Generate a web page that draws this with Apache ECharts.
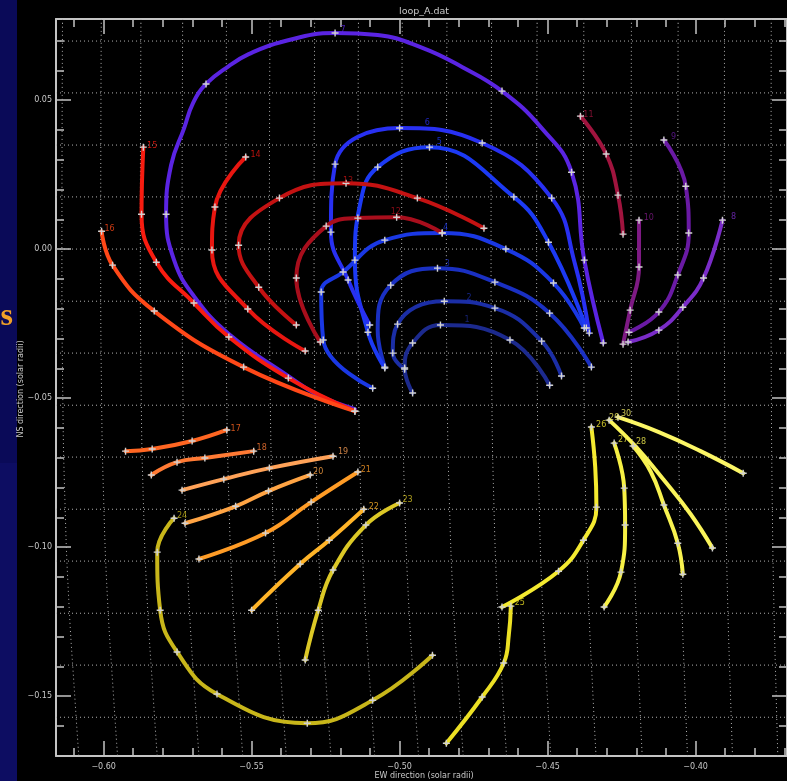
<!DOCTYPE html>
<html>
<head>
<meta charset="utf-8">
<script src="https://cdn.jsdelivr.net/npm/echarts@6/dist/echarts.min.js"></script>
<style>
  html, body { margin: 0; padding: 0; background: #000; }
  #main { width: 787px; height: 781px; }
</style>
</head>
<body>
<div id="main"></div>
<script>
// axis ranges (solar radii) and tick values
var X_MIN = -0.6161, X_MAX = -0.3691;
var Y_MIN = -0.1701, Y_MAX = 0.0772;
var xMajor = [-0.60, -0.55, -0.50, -0.45, -0.40];
var xMinor = [-0.61, -0.59, -0.58, -0.57, -0.56, -0.54, -0.53, -0.52, -0.51, -0.49, -0.48, -0.47, -0.46,
              -0.44, -0.43, -0.42, -0.41, -0.39, -0.38, -0.37];
var yMajor = [0.05, 0.00, -0.05, -0.10, -0.15];
var yMinor = [0.07, 0.06, 0.04, 0.03, 0.02, 0.01, -0.01, -0.02, -0.03, -0.04, -0.06, -0.07, -0.08, -0.09,
              -0.11, -0.12, -0.13, -0.14, -0.16];

// heliographic grid (dotted)
var latY = [0.0698, 0.0524, 0.0349, 0.0175, 0, -0.0175, -0.0349, -0.0524, -0.0698, -0.0873, -0.1047,
            -0.1222, -0.1396, -0.1571];
var meridianX = [-0.6141, -0.6010, -0.5876, -0.5735, -0.5587, -0.5440, -0.5289, -0.5141, -0.4993,
                 -0.4842, -0.4691, -0.4537, -0.4379, -0.4218, -0.4060, -0.3903, -0.3745];
var bendY = [0.0772, 0.0, -0.05, -0.084, -0.1175, -0.151, -0.1701];
var bendDx = [0.0002, 0, 0.0003, 0.001, 0.0023, 0.0044, 0.0057];

// traced loops: [x, y] points, third value 0 = no cross marker
var loop01 = [[-0.4956,-0.0483],[-0.4983,-0.0399],[-0.4956,-0.0315],[-0.4862,-0.0255],[-0.4627,-0.0305],[-0.4493,-0.0457]];
var loop02 = [[-0.4983,-0.0403],[-0.5023,-0.0349],[-0.5007,-0.0252],[-0.4849,-0.0175],[-0.4678,-0.0198],[-0.4520,-0.0309],[-0.4453,-0.0426]];
var loop03 = [[-0.5050,-0.0396],[-0.5074,-0.0272,0],[-0.5030,-0.0121],[-0.4872,-0.0064],[-0.4678,-0.0111],[-0.4493,-0.0215],[-0.4352,-0.0396]];
var loop04 = [[-0.5091,-0.0467],[-0.5258,-0.0305],[-0.5265,-0.0144],[-0.5191,-0.0077],[-0.5050,0.0030],[-0.4856,0.0054],[-0.4641,0.0000],[-0.4480,-0.0114],[-0.4376,-0.0265]];
var loop05 = [[-0.5050,-0.0399],[-0.5107,-0.0279],[-0.5151,-0.0037],[-0.5134,0.0148,0],[-0.5074,0.0275],[-0.4899,0.0342],[-0.4614,0.0175],[-0.4497,0.0023],[-0.4369,-0.0265]];
var loop06 = [[-0.5101,-0.0255],[-0.5174,-0.0104],[-0.5232,0.0057],[-0.5218,0.0285],[-0.5000,0.0406],[-0.4721,0.0356],[-0.4486,0.0171],[-0.4409,-0.0044,0],[-0.4359,-0.0282]];
var loop07 = [[-0.5151,-0.0537,0],[-0.5275,-0.0490,0],[-0.5376,-0.0426,0],[-0.5577,-0.0285,0],[-0.5695,-0.0158,0],[-0.5762,-0.0037,0],[-0.5789,0.0117],[-0.5772,0.0282,0],[-0.5728,0.0406,0],[-0.5698,0.0490,0],[-0.5654,0.0554],[-0.5577,0.0614,0],[-0.5510,0.0654,0],[-0.5399,0.0695,0],[-0.5218,0.0725],[-0.5074,0.0718,0],[-0.4923,0.0675,0],[-0.4789,0.0611,0],[-0.4654,0.0530],[-0.4520,0.0406,0],[-0.4419,0.0258],[-0.4376,-0.0037],[-0.4312,-0.0315]];
var loop08 = [[-0.3909,0.0097],[-0.3973,-0.0097],[-0.4043,-0.0195],[-0.4124,-0.0272],[-0.4228,-0.0312]];
var loop09 = [[-0.4107,0.0366],[-0.4033,0.0211],[-0.4023,0.0054],[-0.4060,-0.0087],[-0.4124,-0.0211],[-0.4225,-0.0279]];
var loop10 = [[-0.4191,0.0097],[-0.4191,-0.0060],[-0.4221,-0.0205],[-0.4245,-0.0319]];
var loop11 = [[-0.4389,0.0446],[-0.4302,0.0319],[-0.4262,0.0181],[-0.4245,0.0050]];
var loop12 = [[-0.5268,-0.0312],[-0.5349,-0.0097],[-0.5248,0.0077],[-0.5141,0.0104],[-0.5010,0.0107],[-0.4856,0.0054]];
var loop13 = [[-0.5349,-0.0255],[-0.5476,-0.0128],[-0.5544,0.0013],[-0.5406,0.0171],[-0.5181,0.0221],[-0.4940,0.0171],[-0.4715,0.0070]];
var loop14 = [[-0.5520,0.0309],[-0.5624,0.0141],[-0.5634,-0.0003],[-0.5513,-0.0201],[-0.5319,-0.0342]];
var loop15 = [[-0.5866,0.0342],[-0.5872,0.0117],[-0.5822,-0.0044],[-0.5695,-0.0181],[-0.5577,-0.0295],[-0.5376,-0.0433],[-0.5151,-0.0544]];
var loop16 = [[-0.6007,0.0060],[-0.5970,-0.0054],[-0.5829,-0.0208],[-0.5527,-0.0396],[-0.5151,-0.0544]];
var loop17 = [[-0.5926,-0.0678],[-0.5836,-0.0671],[-0.5701,-0.0644],[-0.5584,-0.0607]];
var loop18 = [[-0.5839,-0.0758],[-0.5752,-0.0715],[-0.5658,-0.0701],[-0.5493,-0.0678]];
var loop19 = [[-0.5735,-0.0809],[-0.5594,-0.0772],[-0.5440,-0.0735],[-0.5225,-0.0695]];
var loop20 = [[-0.5725,-0.0920],[-0.5554,-0.0863],[-0.5443,-0.0812],[-0.5302,-0.0758]];
var loop21 = [[-0.5678,-0.1040],[-0.5453,-0.0953],[-0.5299,-0.0849],[-0.5141,-0.0748]];
var loop22 = [[-0.5121,-0.0873],[-0.5238,-0.0977],[-0.5336,-0.1057],[-0.5500,-0.1212]];
var loop23 = [[-0.5000,-0.0852],[-0.5114,-0.0926],[-0.5225,-0.1077],[-0.5275,-0.1212],[-0.5319,-0.1379]];
var loop24 = [[-0.5762,-0.0903],[-0.5819,-0.1017],[-0.5809,-0.1212],[-0.5752,-0.1352],[-0.5617,-0.1493],[-0.5312,-0.1591],[-0.5091,-0.1514],[-0.4889,-0.1363]];
var loop25 = [[-0.4624,-0.1198],[-0.4631,-0.1295,0],[-0.4648,-0.1389],[-0.4721,-0.1503],[-0.4842,-0.1658]];
var loop26 = [[-0.4352,-0.0597],[-0.4339,-0.0732,0],[-0.4335,-0.0866],[-0.4379,-0.0977],[-0.4463,-0.1081],[-0.4654,-0.1201]];
var loop27 = [[-0.4275,-0.0651],[-0.4241,-0.0802],[-0.4238,-0.0926],[-0.4252,-0.1084],[-0.4309,-0.1201]];
var loop28 = [[-0.4211,-0.0661],[-0.4151,-0.0748,0],[-0.4107,-0.0859],[-0.4060,-0.0987],[-0.4043,-0.1091]];
var loop29 = [[-0.4292,-0.0574],[-0.4201,-0.0664,0],[-0.4107,-0.0775,0],[-0.4017,-0.0889,0],[-0.3943,-0.1003]];
var loop30 = [[-0.4262,-0.0564],[-0.4124,-0.0614,0],[-0.3983,-0.0678,0],[-0.3839,-0.0752]];

var loopColors = ['#1c2a8e','#1b2ea6','#1a30c2','#1a38e4','#1c3af4','#2830f2','#5a24e2','#7a2cc8','#6a1aa4','#7e1a84',
                  '#a0143e','#a80e1c','#c41212','#e81610','#f81c10','#ff4818','#ff6622','#ff7a34','#ffa258','#ffa444',
                  '#ff9c26','#ffb428','#dcc826','#c8b61a','#ece024','#f4ea30','#f6f044','#f8f250','#faf45a','#fcf666'];
var loopNames = ['1','2','3','4','5','6','7','8','9','10','11','12','13','14','15','16','17','18','19','20',
                 '21','22','23','24','25','26','27','28','29','30'];
var labelPos = [[-0.4772,-0.0238],[-0.4765,-0.0164],[-0.4839,-0.0050],[-0.4845,0.0070],[-0.4866,0.0359],[-0.4906,0.0423],
                [-0.5191,0.0735],[-0.3872,0.0107],[-0.4074,0.0376],[-0.4158,0.0104],[-0.4362,0.0450],[-0.5013,0.0124],
                [-0.5174,0.0228],[-0.5487,0.0315],[-0.5836,0.0346],[-0.5980,0.0067],[-0.5554,-0.0604],[-0.5466,-0.0668],
                [-0.5191,-0.0681],[-0.5275,-0.0748],[-0.5114,-0.0742],[-0.5087,-0.0866],[-0.4973,-0.0842],[-0.5735,-0.0896],
                [-0.4594,-0.1188],[-0.4319,-0.0591],[-0.4245,-0.0641],[-0.4184,-0.0648],[-0.4275,-0.0567],[-0.4235,-0.0553]];

var loops = [loop01, loop02, loop03, loop04, loop05, loop06, loop07, loop08, loop09, loop10,
             loop11, loop12, loop13, loop14, loop15, loop16, loop17, loop18, loop19, loop20,
             loop21, loop22, loop23, loop24, loop25, loop26, loop27, loop28, loop29, loop30];

var TXT = '#c8c8c8';
var AXC = '#c4c4c4';
var FONT = 'DejaVu Sans';
var crossPath = 'path://M4,0H6V4H10V6H6V10H4V6H0V4H4Z';

function fmt(v) {
  return v.toFixed(2).replace('-', '\u2212');
}

function makeAxis(dim, position, ticks, tickLen, withLine, withLabels) {
  return {
    type: 'value',
    gridIndex: 0,
    position: position,
    min: dim === 'x' ? X_MIN : Y_MIN,
    max: dim === 'x' ? X_MAX : Y_MAX,
    axisLine: { show: withLine, onZero: false, lineStyle: { color: AXC, width: 2 } },
    axisTick: { show: true, inside: true, length: tickLen, customValues: ticks,
                lineStyle: { color: AXC, width: 1.5 } },
    axisLabel: withLabels
      ? { show: true, customValues: ticks, formatter: fmt, color: TXT, fontSize: 8, fontFamily: FONT,
          margin: dim === 'x' ? 7 : 4 }
      : { show: false },
    splitLine: { show: false }
  };
}

var gridLine = { color: '#b0b0b0', width: 1, type: [1, 3] };
var series = [];

// latitude lines
latY.forEach(function (y) {
  series.push({
    type: 'line', silent: true, symbol: 'none', z: 1,
    data: [[X_MIN, y], [X_MAX, y]],
    lineStyle: gridLine
  });
});

// meridians, bending toward the bottom
meridianX.forEach(function (x0) {
  var s = x0 < -0.484 ? 1 : Math.max(0.4, 1 - 0.6 * (x0 + 0.484) / 0.11);
  series.push({
    type: 'line', silent: true, symbol: 'none', smooth: 0.5, z: 1,
    data: bendY.map(function (y, i) { return [x0 + bendDx[i] * s, y]; }),
    lineStyle: gridLine
  });
});

// loops
loops.forEach(function (pts, i) {
  series.push({
    type: 'line',
    name: 'loop ' + loopNames[i],
    smooth: 0.45,
    showAllSymbol: true,
    symbol: crossPath,
    symbolSize: 7,
    z: 3,
    data: pts.map(function (p) {
      return { value: [p[0], p[1]], symbol: p[2] === 0 ? 'none' : crossPath };
    }),
    lineStyle: { color: loopColors[i], width: 4, cap: 'round', join: 'round' },
    itemStyle: { color: '#d2d2d2' }
  });
});

// loop numbers
series.push({
  type: 'scatter',
  symbolSize: 1,
  z: 5,
  itemStyle: { color: 'transparent' },
  data: labelPos.map(function (p, i) {
    return { value: p, label: { color: loopColors[i] } };
  }),
  label: {
    show: true, position: 'inside', fontSize: 8, fontFamily: FONT,
    formatter: function (p) { return loopNames[p.dataIndex]; }
  }
});

var chart = echarts.init(document.getElementById('main'));
chart.setOption({
  backgroundColor: '#000',
  animation: false,
  grid: { left: 56, top: 19, right: -5, bottom: 25 },
  xAxis: [
    makeAxis('x', 'bottom', xMajor, 15, true, true),
    makeAxis('x', 'bottom', xMinor, 8, false, false),
    makeAxis('x', 'top', xMajor, 15, true, false),
    makeAxis('x', 'top', xMinor, 8, false, false)
  ],
  yAxis: [
    makeAxis('y', 'left', yMajor, 15, true, true),
    makeAxis('y', 'left', yMinor, 8, false, false),
    makeAxis('y', 'right', yMajor, 15, true, false),
    makeAxis('y', 'right', yMinor, 8, false, false)
  ],
  series: series,
  graphic: [
    { type: 'rect', shape: { x: 0, y: 0, width: 17, height: 463 }, style: { fill: '#0a0a58' } },
    { type: 'rect', shape: { x: 0, y: 463, width: 17, height: 318 }, style: { fill: '#0d0d62' } },
    { type: 'text', x: 13, y: 333,
      style: { text: 's', fill: '#f0a028', font: 'bold 32px "Liberation Serif"', textAlign: 'right',
               textVerticalAlign: 'bottom' } },
    { type: 'text', x: 424, y: 12,
      style: { text: 'loop_A.dat', fill: TXT, font: '9.5px "DejaVu Sans"', textAlign: 'center',
               textVerticalAlign: 'middle' } },
    { type: 'text', x: 424, y: 776,
      style: { text: 'EW direction (solar radii)', fill: TXT, font: '8px "DejaVu Sans"', textAlign: 'center',
               textVerticalAlign: 'middle' } },
    { type: 'text', x: 21, y: 389, rotation: Math.PI / 2,
      style: { text: 'NS direction (solar radii)', fill: TXT, font: '8px "DejaVu Sans"', textAlign: 'center',
               textVerticalAlign: 'middle' } }
  ]
});
</script>
</body>
</html>
